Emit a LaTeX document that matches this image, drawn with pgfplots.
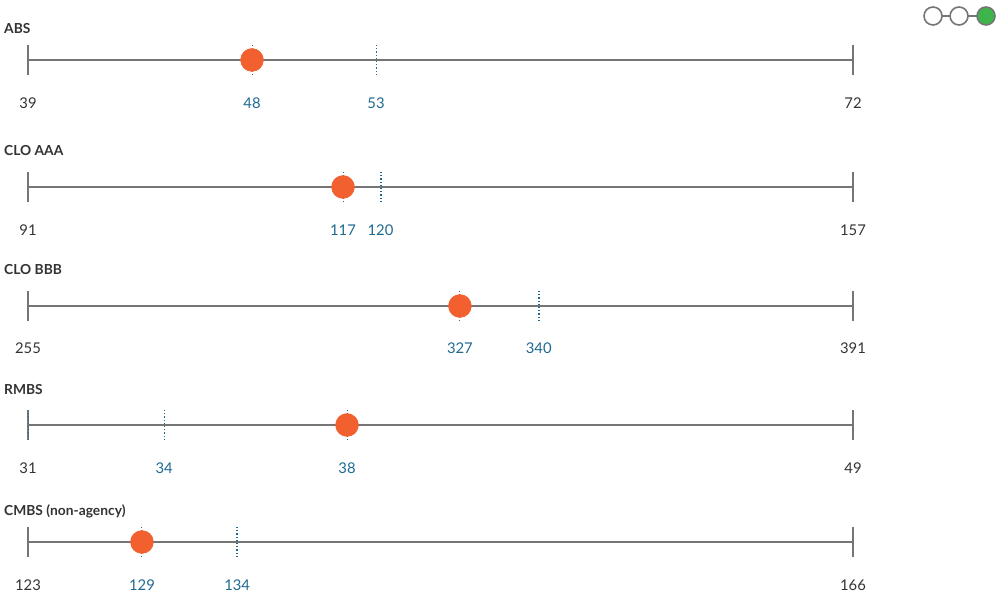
\documentclass[border=0pt]{standalone}
\usepackage{fontspec}
\setmainfont{Lato}
\usepackage{pgfplots}
\pgfplotsset{compat=1.18}

\definecolor{dotorange}{HTML}{F2602F}
\definecolor{refblue}{HTML}{1E6990}
\definecolor{linegray}{HTML}{757575}
\definecolor{txtgray}{HTML}{333333}
\definecolor{stepgreen}{HTML}{3DB54A}

% one axis per row: the axis spans pixels 28..853, y in pixel units around the line
\pgfplotsset{
  rangerow/.style={
    hide axis, scale only axis, clip=false,
    width=825pt, height=30pt,
    ymin=-15, ymax=15,
    anchor=south west,
  },
  endcap/.style={linegray, line width=2pt},
  reftick/.style={refblue, line width=#1, dash pattern=on 1.2pt off 2pt},
  numlab/.style={mark=none, draw=none, nodes near coords, point meta=explicit symbolic,
    every node near coord/.style={anchor=center, inner sep=0pt, text=#1,
      font=\fontsize{14.8}{17}\selectfont}},
}
\newcommand{\rowtitle}[2]{\node[anchor=west, inner sep=0pt, text=txtgray,
  font=\bfseries\fontsize{13.8}{16}\selectfont] at (4pt,#1pt) {#2};}

\begin{document}
\begin{tikzpicture}[x=1pt,y=1pt]
\path[use as bounding box] (0pt,0pt) rectangle (1000pt,612pt);

% step indicator, top right
\draw[linegray, line width=1.6pt] (942pt,596pt) -- (950pt,596pt) (968pt,596pt) -- (977pt,596pt);
\draw[linegray, line width=1.6pt, fill=white] (933pt,596pt) circle (9pt);
\draw[linegray, line width=1.6pt, fill=white] (959pt,596pt) circle (9pt);
\draw[linegray, line width=1.6pt, fill=stepgreen] (986pt,596pt) circle (9pt);

% ABS  (line at y=612-60)
\rowtitle{583}{ABS}
\begin{axis}[rangerow, at={(28pt,537pt)}, xmin=39, xmax=72]
  \addplot[linegray, line width=2pt] coordinates {(39,0) (72,0)};
  \addplot[endcap] coordinates {(39,-15) (39,15)};
  \addplot[endcap] coordinates {(72,-15) (72,15)};
  \addplot[reftick=1pt] coordinates {(52.92,-15) (52.92,15)};
  \addplot[reftick=1pt] coordinates {(47.96,-15) (47.96,15)};
  \addplot[only marks, mark=*, mark size=11.5pt, dotorange] coordinates {(47.96,0)};
  \addplot[numlab=txtgray] coordinates {(39,-43) [39] (72,-43) [72]};
  \addplot[numlab=refblue] coordinates {(47.96,-43) [48] (52.92,-43) [53]};
\end{axis}

% CLO AAA  (line at y=612-187)
\rowtitle{461}{CLO AAA}
\begin{axis}[rangerow, at={(28pt,410pt)}, xmin=91, xmax=157]
  \addplot[linegray, line width=2pt] coordinates {(91,0) (157,0)};
  \addplot[endcap] coordinates {(91,-15) (91,15)};
  \addplot[endcap] coordinates {(157,-15) (157,15)};
  \addplot[reftick=2pt] coordinates {(119.2,-15) (119.2,15)};
  \addplot[reftick=1pt] coordinates {(116.2,-15) (116.2,15)};
  \addplot[only marks, mark=*, mark size=11.5pt, dotorange] coordinates {(116.2,0)};
  \addplot[numlab=txtgray] coordinates {(91,-43) [91] (157,-43) [157]};
  \addplot[numlab=refblue] coordinates {(116.2,-43) [117] (119.2,-43) [120]};
\end{axis}

% CLO BBB  (line at y=612-306)
\rowtitle{342}{CLO BBB}
\begin{axis}[rangerow, at={(28pt,291pt)}, xmin=255, xmax=391]
  \addplot[linegray, line width=2pt] coordinates {(255,0) (391,0)};
  \addplot[endcap] coordinates {(255,-15) (255,15)};
  \addplot[endcap] coordinates {(391,-15) (391,15)};
  \addplot[reftick=2pt] coordinates {(339.2,-15) (339.2,15)};
  \addplot[reftick=1pt] coordinates {(326.2,-15) (326.2,15)};
  \addplot[only marks, mark=*, mark size=11.5pt, dotorange] coordinates {(326.2,0)};
  \addplot[numlab=txtgray] coordinates {(255,-42) [255] (391,-42) [391]};
  \addplot[numlab=refblue] coordinates {(326.2,-42) [327] (339.2,-42) [340]};
\end{axis}

% RMBS  (line at y=612-425)
\rowtitle{222}{RMBS}
\begin{axis}[rangerow, at={(28pt,172pt)}, xmin=31, xmax=49]
  \addplot[linegray, line width=2pt] coordinates {(31,0) (49,0)};
  \addplot[endcap] coordinates {(31,-15) (31,15)};
  \addplot[endcap] coordinates {(49,-15) (49,15)};
  \addplot[reftick=1pt] coordinates {(31,-15) (31,15)};
  \addplot[reftick=1pt] coordinates {(33.97,-15) (33.97,15)};
  \addplot[reftick=1pt] coordinates {(37.96,-15) (37.96,15)};
  \addplot[only marks, mark=*, mark size=11.5pt, dotorange] coordinates {(37.96,0)};
  \addplot[numlab=txtgray] coordinates {(31,-43) [31] (49,-43) [49]};
  \addplot[numlab=refblue] coordinates {(33.97,-43) [34] (37.96,-43) [38]};
\end{axis}

% CMBS (non-agency)  (line at y=612-542)
\rowtitle{101}{CMBS (non-agency)}
\begin{axis}[rangerow, at={(28pt,55pt)}, xmin=123, xmax=166]
  \addplot[linegray, line width=2pt] coordinates {(123,0) (166,0)};
  \addplot[endcap] coordinates {(123,-15) (123,15)};
  \addplot[endcap] coordinates {(166,-15) (166,15)};
  \addplot[reftick=2pt] coordinates {(133.9,-15) (133.9,15)};
  \addplot[reftick=1pt] coordinates {(128.94,-15) (128.94,15)};
  \addplot[only marks, mark=*, mark size=11.5pt, dotorange] coordinates {(128.94,0)};
  \addplot[numlab=txtgray] coordinates {(123,-43) [123] (166,-43) [166]};
  \addplot[numlab=refblue] coordinates {(128.94,-43) [129] (133.9,-43) [134]};
\end{axis}
\end{tikzpicture}
\end{document}
